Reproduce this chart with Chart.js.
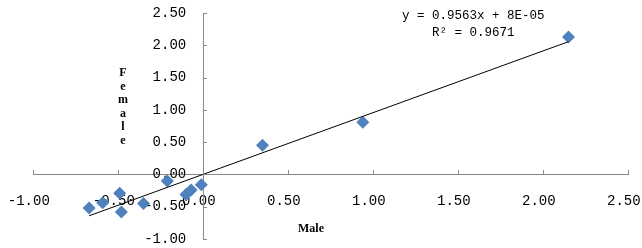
<!DOCTYPE html>
<html>
<head>
<meta charset="utf-8">
<script src="https://cdn.jsdelivr.net/npm/chart.js@4"></script>
<style>
  html, body { margin: 0; padding: 0; background: #fff; }
  #wrap { width: 642px; height: 248px; position: relative; }
</style>
</head>
<body>
<div id="wrap"><canvas id="scatterChart"></canvas></div>
<script>
// values
const maleValues   = [-0.67, -0.59, -0.49, -0.48, -0.35, -0.21, -0.10, -0.07, -0.01, 0.35, 0.94, 2.15];
const femaleValues = [-0.52, -0.44, -0.29, -0.58, -0.45, -0.10, -0.31, -0.24, -0.16, 0.45, 0.81, 2.13];

const slope = 0.9563;
const intercept = 0.00008;
const equationLines = ["y = 0.9563x + 8E-05", "R\u00b2 = 0.9671"];

const xTitle = "Male";
const yTitle = "Female";

const axisColor = "#898989";
const tickFont = { family: "Liberation Mono", size: 14 };

function buildPoints() {
    return maleValues.map((x, i) => ({ x: x, y: femaleValues[i] }));
}

function buildTrend() {
    const lo = Math.min(...maleValues);
    const hi = Math.max(...maleValues);
    return [
        { x: lo, y: slope * lo + intercept },
        { x: hi, y: slope * hi + intercept }
    ];
}

// inward tick marks, axis titles and the trend equation
const extrasPlugin = {
    id: "extras",
    afterDraw(chart) {
        const ctx = chart.ctx;
        const xs = chart.scales.x;
        const ys = chart.scales.y;
        const x0 = xs.getPixelForValue(0);
        const y0 = ys.getPixelForValue(0);

        ctx.save();
        ctx.strokeStyle = axisColor;
        ctx.lineWidth = 1;
        ctx.beginPath();
        xs.ticks.forEach(t => {
            const px = Math.round(xs.getPixelForValue(t.value)) + 0.5;
            ctx.moveTo(px, Math.round(y0));
            ctx.lineTo(px, Math.round(y0) - 4);
        });
        ys.ticks.forEach(t => {
            const py = Math.round(ys.getPixelForValue(t.value)) + 0.5;
            ctx.moveTo(Math.round(x0), py);
            ctx.lineTo(Math.round(x0) + 4, py);
        });
        ctx.stroke();

        ctx.fillStyle = "#000";
        ctx.font = "bold 12px 'Liberation Serif'";
        ctx.textAlign = "center";
        ctx.textBaseline = "middle";
        ctx.fillText(xTitle, 311, 229);
        yTitle.split("").forEach((ch, i) => {
            ctx.fillText(ch, 123, 73 + i * 13.5);
        });

        ctx.font = "12.5px 'Liberation Mono'";
        const ex = xs.getPixelForValue(1.59);
        ctx.fillText(equationLines[0], ex, 16);
        ctx.fillText(equationLines[1], ex, 33);
        ctx.restore();
    }
};

function renderChart() {
    const ctx = document.getElementById("scatterChart").getContext("2d");

    new Chart(ctx, {
        type: "scatter",
        data: {
            datasets: [{
                label: "Points",
                data: buildPoints(),
                pointStyle: "rectRot",
                pointRadius: 6.5,
                pointHoverRadius: 6.5,
                backgroundColor: "#4F81BD",
                borderColor: "#4F81BD",
                borderWidth: 0,
                order: 1
            }, {
                type: "line",
                label: "Trend",
                data: buildTrend(),
                borderColor: "#000",
                borderWidth: 1,
                pointRadius: 0,
                fill: false,
                order: 0
            }]
        },
        options: {
            responsive: true,
            maintainAspectRatio: false,
            animation: false,
            layout: {
                padding: { left: 33, right: 14, top: 13, bottom: 9 }
            },
            plugins: {
                legend: { display: false },
                tooltip: { enabled: false }
            },
            scales: {
                x: {
                    type: "linear",
                    min: -1,
                    max: 2.5,
                    position: { y: 0 },
                    grid: { drawOnChartArea: false, drawTicks: false },
                    border: { display: true, color: axisColor },
                    ticks: {
                        stepSize: 0.5,
                        padding: 18,
                        color: "#000",
                        font: tickFont,
                        maxRotation: 0,
                        autoSkip: false,
                        // trailing space nudges the centred labels a little left, as in the original
                        callback: v => v.toFixed(2) + " "
                    },
                    afterFit(s) { s.paddingLeft = 0; s.paddingRight = 0; }
                },
                y: {
                    type: "linear",
                    min: -1,
                    max: 2.5,
                    position: { x: 0 },
                    grid: { drawOnChartArea: false, drawTicks: false },
                    border: { display: true, color: axisColor },
                    ticks: {
                        stepSize: 0.5,
                        color: "#000",
                        font: tickFont,
                        autoSkip: false,
                        // trailing spaces keep the right-aligned labels off the axis
                        callback: v => v.toFixed(2) + "  "
                    },
                    afterFit(s) { s.paddingTop = 0; s.paddingBottom = 0; }
                }
            }
        },
        plugins: [extrasPlugin]
    });
}

window.addEventListener("load", renderChart);
</script>
</body>
</html>
